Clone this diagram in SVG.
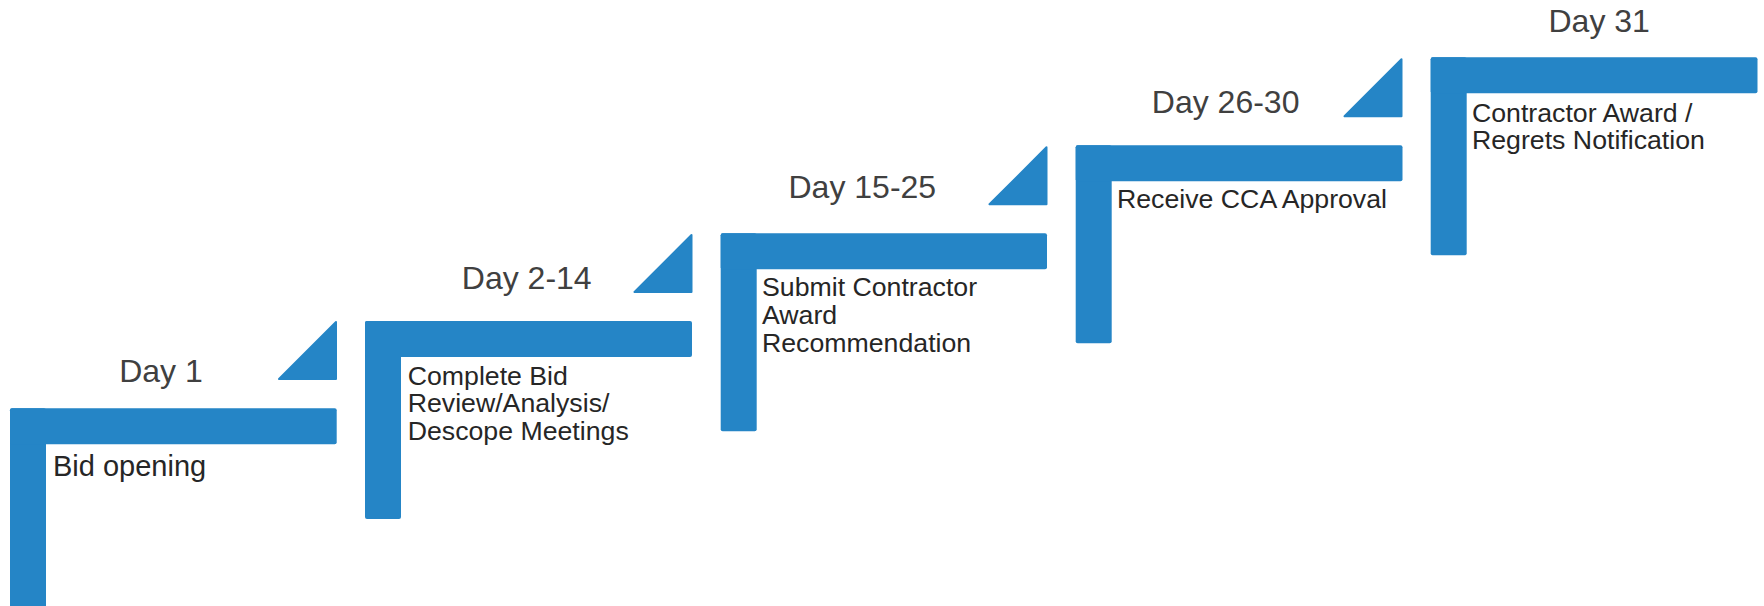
<svg xmlns="http://www.w3.org/2000/svg" width="1764" height="606" viewBox="0 0 1764 606">
<style>
.bar{fill:#2585C6;}
.tri{fill:#2585C6;stroke:#2585C6;stroke-width:2;stroke-linejoin:round;}
.day{font-family:"Liberation Sans",Arial,sans-serif;font-size:32px;fill:#404040;}
.lbl{font-family:"Liberation Sans",Arial,sans-serif;font-size:26.7px;fill:#262626;}
</style>
<rect width="1764" height="606" fill="#ffffff"/>
<g id="connectors">
<polygon class="tri" points="279,379 336,379 336,322"/>
<polygon class="tri" points="634.5,292 691.5,292 691.5,235"/>
<polygon class="tri" points="989.5,204.3 1046.5,204.3 1046.5,147.3"/>
<polygon class="tri" points="1344.5,116.3 1401.5,116.3 1401.5,59.3"/>
</g>
<g id="step1">
<rect class="bar" x="10" y="408.3" width="36" height="210" rx="2"/>
<rect class="bar" x="10" y="408.3" width="326.7" height="36" rx="2"/>
<text class="day" x="119.2" y="381.5">Day 1</text>
<text class="lbl" x="53" y="476" style="font-size:29px">Bid opening</text>
</g>
<g id="step2">
<rect class="bar" x="365" y="321" width="36" height="198" rx="2"/>
<rect class="bar" x="365" y="321" width="327" height="36" rx="2"/>
<text class="day" x="461.8" y="289">Day 2-14</text>
<text class="lbl" x="407.7" y="384.5">Complete Bid</text>
<text class="lbl" x="407.7" y="412">Review/Analysis/</text>
<text class="lbl" x="407.7" y="439.5">Descope Meetings</text>
</g>
<g id="step3">
<rect class="bar" x="720.7" y="233.3" width="36" height="198" rx="2"/>
<rect class="bar" x="720.7" y="233.3" width="326.3" height="36" rx="2"/>
<text class="day" x="788.5" y="198.3">Day 15-25</text>
<text class="lbl" x="762" y="296">Submit Contractor</text>
<text class="lbl" x="762" y="324">Award</text>
<text class="lbl" x="762" y="352.3">Recommendation</text>
</g>
<g id="step4">
<rect class="bar" x="1075.7" y="145.3" width="36" height="198" rx="2"/>
<rect class="bar" x="1075.7" y="145.3" width="326.8" height="36" rx="2"/>
<text class="day" x="1151.8" y="113.3">Day 26-30</text>
<text class="lbl" x="1117" y="208.3">Receive CCA Approval</text>
</g>
<g id="step5">
<rect class="bar" x="1430.7" y="57.3" width="36" height="198" rx="2"/>
<rect class="bar" x="1430.7" y="57.3" width="326.8" height="36" rx="2"/>
<text class="day" x="1548.5" y="31.7">Day 31</text>
<text class="lbl" x="1472" y="121.7">Contractor Award /</text>
<text class="lbl" x="1472" y="148.8">Regrets Notification</text>
</g>
</svg>
